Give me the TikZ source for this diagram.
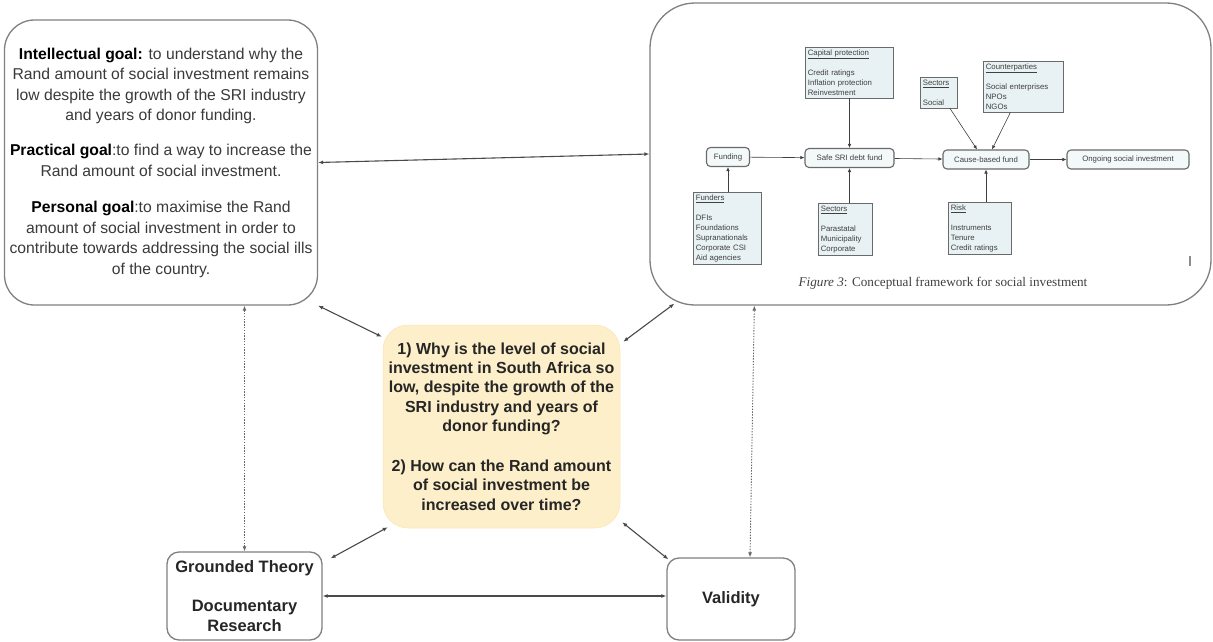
\documentclass[tikz,border=0pt]{standalone}
\usepackage{fontspec}
\setmainfont{Liberation Sans}
\newfontfamily\capfont{Liberation Serif}
\usetikzlibrary{arrows.meta,calc}
\definecolor{edge}{HTML}{4A4A4A}
\definecolor{boxline}{HTML}{808080}
\definecolor{qfill}{HTML}{FCEFC9}
\definecolor{ffill}{HTML}{E8F1F3}
\definecolor{fline}{HTML}{6A6A6A}
\definecolor{bodytext}{HTML}{3A3A3A}

\begin{document}
\begin{tikzpicture}[x=1pt,y=-1pt,
  panel/.style={draw=boxline, line width=1.3pt, fill=white, inner sep=0pt},
  link/.style={draw=edge, line width=1.1pt,
    {Latex[length=5pt,width=4pt]}-{Latex[length=5pt,width=4pt]}},
  dotlink/.style={draw=edge!85, line width=0.9pt, dash pattern=on 1.4pt off 1.4pt,
    {Latex[length=5pt,width=4pt]}-{Latex[length=5pt,width=4pt]}},
  tbox/.style={draw=fline, fill=ffill, line width=0.7pt, anchor=north west,
    inner sep=2.5pt, align=left, font=\fontsize{7.8}{10}\selectfont, text=black!75},
  rbox/.style={draw=fline, fill=ffill!50, rounded corners=4pt, line width=1.1pt,
    inner sep=2pt, minimum height=19pt, font=\fontsize{7.8}{9}\selectfont, text=black!75},
  flow/.style={draw=black!75, line width=0.6pt, -{Latex[length=4pt,width=3.5pt]}}
]
\useasboundingbox (0,0) rectangle (1213,642);

% ---- goals panel ----
\node[panel, rounded corners=30pt, minimum width=313pt, minimum height=285pt] (goals) at (161,162.5) {};
\node[align=center, inner sep=0pt, font=\fontsize{15.7}{20.5}\selectfont, text=bodytext] (goaltext) at (goals.center)
 {\textcolor{black}{\textbf{Intellectual goal:}} to understand why the\\
  Rand amount of social investment remains\\
  low despite the growth of the SRI industry\\
  and years of donor funding.\\[14.5pt]
  \textcolor{black}{\textbf{Practical goal}}:to find a way to increase the\\
  Rand amount of social investment.\\[16pt]
  \textcolor{black}{\textbf{Personal goal}}:to maximise the Rand\\
  amount of social investment in order to\\
  contribute towards addressing the social ills\\
  of the country.};

% ---- framework panel ----
\node[panel, rounded corners=45pt, minimum width=561pt, minimum height=302pt] (fig) at (930.5,154) {};

% inner flow chart
\node[rbox, minimum width=43pt] (funding) at (728,157) {Funding};
\node[rbox, minimum width=89pt] (safe) at (849.5,158) {Safe SRI debt fund};
\node[rbox, minimum width=86pt] (cause) at (986,159.5) {Cause-based fund};
\node[rbox, minimum width=122pt] (ongoing) at (1128,159.5) {Ongoing social investment};

\node[tbox, text width=83pt] (capprot) at (805,47)
 {\underline{Capital protection}\\[10pt]Credit ratings\\Inflation protection\\Reinvestment};
\node[tbox, text width=63pt] (funders) at (693,192)
 {\underline{Funders}\\[10pt]DFIs\\Foundations\\Supranationals\\Corporate CSI\\Aid agencies};
\node[tbox, text width=49pt] (secta) at (818,203)
 {\underline{Sectors}\\[10pt]Parastatal\\Municipality\\Corporate};
\node[tbox, text width=32pt] (sectb) at (920,77)
 {\underline{Sectors}\\[10pt]Social};
\node[tbox, text width=75pt] (cparty) at (983,61)
 {\underline{Counterparties}\\[10pt]Social enterprises\\NPOs\\NGOs};
\node[tbox, text width=58pt] (risk) at (948,202)
 {\underline{Risk}\\[10pt]Instruments\\Tenure\\Credit ratings};

\draw[flow] (funding) -- (safe);
\draw[flow] (safe) -- (cause);
\draw[flow] (cause) -- (ongoing);
\draw[flow] (funders.north -| funding) -- (funding.south);
\draw[flow] (capprot.south -| safe) -- (safe.north);
\draw[flow] (secta.north -| safe) -- (safe.south);
\draw[flow] ($(sectb.south)+(11,0)$) -- ($(cause.north)+(-9,0)$);
\draw[flow] ($(cparty.south)+(-13,0)$) -- ($(cause.north)+(6,0)$);
\draw[flow] (risk.north -| cause) -- (cause.south);

\node[font=\capfont\fontsize{13.2}{15}\selectfont, text=black!75] (capt) at (943,283)
 {\textit{Figure 3}: Conceptual framework for social investment};
\draw[black!45, line width=1.2pt] (1190,256) -- (1190,266);

% ---- research questions ----
\node[fill=qfill, draw=qfill!90!orange, line width=0.5pt, rounded corners=25pt,
      minimum width=237pt, minimum height=203pt, inner sep=0pt] (q) at (501.5,426.5) {};
\node[align=center, inner sep=0pt, font=\bfseries\fontsize{16}{19.3}\selectfont, text=black!85] (qtext) at (q.center)
 {1) Why is the level of social\\
  investment in South Africa so\\
  low, despite the growth of the\\
  SRI industry and years of\\
  donor funding?\\[21pt]
  2) How can the Rand amount\\
  of social investment be\\
  increased over time?};

% ---- methods and validity ----
\node[panel, rounded corners=12pt, minimum width=155pt, minimum height=88pt, align=center,
      font=\bfseries\fontsize{16.5}{20.5}\selectfont, text=black!85] (gt) at (244.5,596)
 {Grounded Theory\\[18.5pt]Documentary\\Research};
\node[panel, rounded corners=12pt, minimum width=128pt, minimum height=82pt,
      font=\bfseries\fontsize{16.5}{20.5}\selectfont, text=black!85] (val) at (731,599)
 {Validity};

% ---- connectors ----
\draw[link] (goals.east) -- (fig.west);
\draw[link] (goals.south east) -- ($(q.north west)+(-1,12)$);
\draw[link] ($(fig.south west)+(25,-2)$) -- ($(q.north east)+(3,17)$);
\draw[dotlink] (gt.north) -- (gt.north |- goals.south);
\draw[dotlink] ($(val.north)+(19,0)$) -- ($(fig.south west)+(105,0)$);
\draw[link] ($(gt.north east)+(8,7)$) -- ($(q.south west)+(5,-1)$);
\draw[link] ($(q.south east)+(2,-6)$) -- ($(val.north west)+(2,2)$);
\draw[link] (gt.east) -- (gt.east -| val.west);
\end{tikzpicture}
\end{document}
